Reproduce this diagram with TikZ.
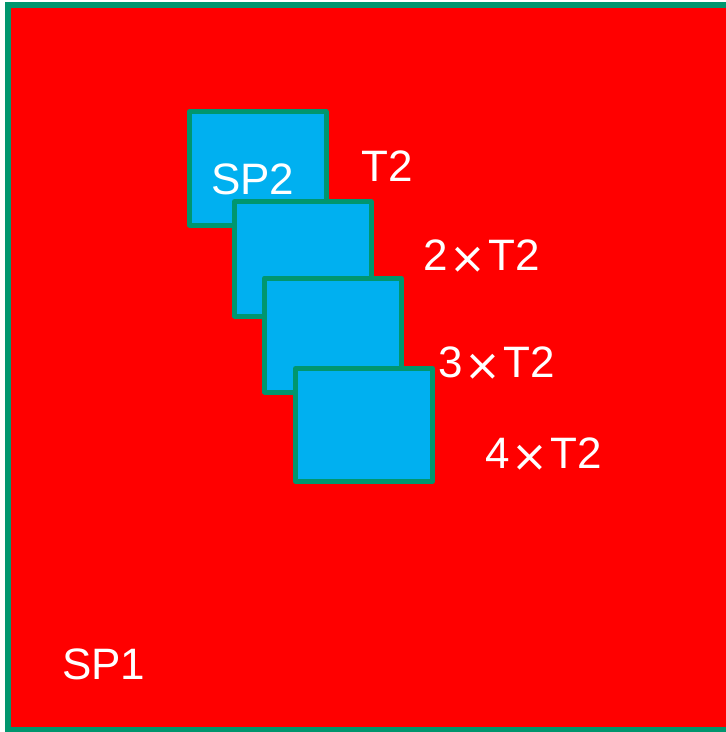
\documentclass[tikz,border=0pt]{standalone}
\usepackage{fontspec}
\setmainfont{Liberation Sans}
\newfontfamily\djv{DejaVu Sans}
\newcommand{\tms}{{\djv ×}}
\definecolor{bordergreen}{RGB}{0,150,110}
\definecolor{boxblue}{RGB}{0,176,240}
\definecolor{bgred}{RGB}{255,0,0}
\begin{document}
\begin{tikzpicture}[x=1pt,y=-1pt,
  outerbox/.style={fill=bgred,draw=bordergreen,line width=6pt},
  spbox/.style={fill=boxblue,draw=bordergreen,line width=5pt,line join=round},
  lbl/.style={anchor=base west,inner sep=0pt,text=white,font=\fontsize{44}{52}\selectfont}]
\useasboundingbox (0,0) rectangle (726,732);
\clip (0,0) rectangle (726,732);
\draw[outerbox] (8,4.5) rectangle (745,730);
\draw[spbox] (189.5,111.5) rectangle (326,225);
\draw[spbox] (234.5,201.5) rectangle (371,316);
\draw[spbox] (264.5,278) rectangle (401,392);
\draw[spbox] (295.5,368.5) rectangle (432.5,481.5);
\node[lbl] (sp2) at (211,194) {SP2};
\node[lbl] (t1) at (361,181) {T2};
\node[lbl] (t2) at (423,270) {2\kern2pt\raisebox{-3pt}{\tms}\kern2pt T2};
\node[lbl] (t3) at (438,377) {3\kern2pt\raisebox{-3pt}{\tms}\kern2pt T2};
\node[lbl] (t4) at (485,468) {4\kern2pt\raisebox{-3pt}{\tms}\kern2pt T2};
\node[lbl] (sp1) at (62,679) {SP1};
\end{tikzpicture}
\end{document}
